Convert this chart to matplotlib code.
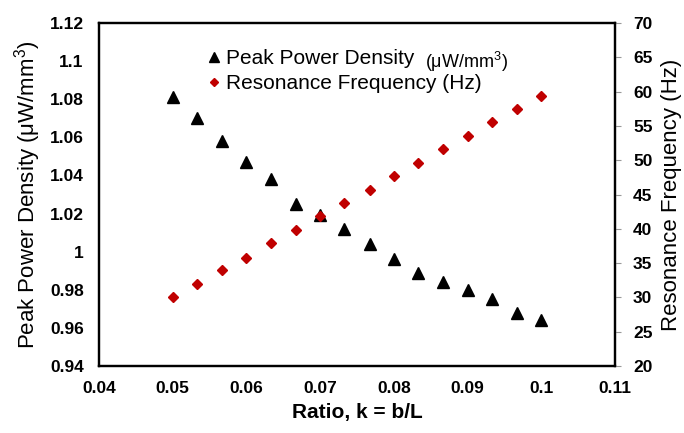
import numpy as np
import matplotlib.pyplot as plt

plt.rcParams.update({
    "font.family": "sans-serif",
    "font.sans-serif": ["Liberation Sans", "Arial", "DejaVu Sans"],
    "mathtext.fontset": "custom",
    "mathtext.rm": "Liberation Sans",
})

# ratio k = b/L
ratio = [0.05, 0.0533, 0.0567, 0.06, 0.0633, 0.0667, 0.07, 0.0733,
         0.0767, 0.08, 0.0833, 0.0867, 0.09, 0.0933, 0.0967, 0.1]
# peak power density (uW/mm^3)
power_density = [1.081, 1.070, 1.058, 1.047, 1.038, 1.025, 1.019, 1.012,
                 1.004, 0.996, 0.989, 0.984, 0.980, 0.975, 0.968, 0.964]
# resonance frequency (Hz)
frequency = [30.1, 32.0, 34.0, 35.8, 37.9, 39.8, 41.8, 43.8,
             45.7, 47.7, 49.6, 51.6, 53.5, 55.5, 57.5, 59.4]

x_ticks = [0.04, 0.05, 0.06, 0.07, 0.08, 0.09, 0.1, 0.11]
left_ticks = [0.94, 0.96, 0.98, 1.0, 1.02, 1.04, 1.06, 1.08, 1.1, 1.12]
right_ticks = [20, 25, 30, 35, 40, 45, 50, 55, 60, 65, 70]

fig = plt.figure(figsize=(6.84, 4.33), dpi=100)
ax = fig.add_axes([0.1447, 0.1547, 0.7544, 0.7922])
ax2 = ax.twinx()

h1, = ax.plot(ratio, power_density, linestyle="none", marker="^",
              markersize=9, color="black", label="Peak Power Density")
h2, = ax2.plot(ratio, frequency, linestyle="none", marker="D",
               markersize=5.5, color="#c00000", label="Resonance Frequency (Hz)")

ax.set_xlim(0.04, 0.11)
ax.set_ylim(0.94, 1.12)
ax2.set_ylim(20, 70)

ax.set_xticks(x_ticks)
ax.set_xticklabels([f"{v:g}" for v in x_ticks])
ax.set_yticks(left_ticks)
ax.set_yticklabels([f"{v:g}" for v in left_ticks])
ax2.set_yticks(right_ticks)

for lab in ax.get_xticklabels() + ax.get_yticklabels() + ax2.get_yticklabels():
    lab.set_fontweight("bold")
    lab.set_fontsize(12.5)

ax.tick_params(axis="x", length=0, pad=11)
ax.tick_params(axis="y", length=0, pad=11)
ax2.tick_params(axis="y", length=4, width=0.8, color="#999999", direction="out", pad=9)

for a in (ax, ax2):
    for sp in a.spines.values():
        sp.set_linewidth(1.6)
        sp.set_color("black")

ax.set_xlabel("Ratio, k = b/L", fontsize=15, fontweight="bold", labelpad=5)
ax.set_ylabel("Peak Power Density (μW/mm$^3$)", fontsize=16, labelpad=5)
ax2.set_ylabel("Resonance Frequency (Hz)", fontsize=16, labelpad=6)

leg = ax.legend(handles=[h1, h2], loc="upper left", bbox_to_anchor=(0.19, 0.955),
                frameon=False, fontsize=15, handlelength=0.6, handletextpad=0.3,
                labelspacing=0.3, borderpad=0, markerscale=0.75)
fig.text(425 / 684, 1 - 62 / 433, "(μW/mm$^3$)", fontsize=13, va="center", ha="left")

fig.savefig("out.png", dpi=100)
